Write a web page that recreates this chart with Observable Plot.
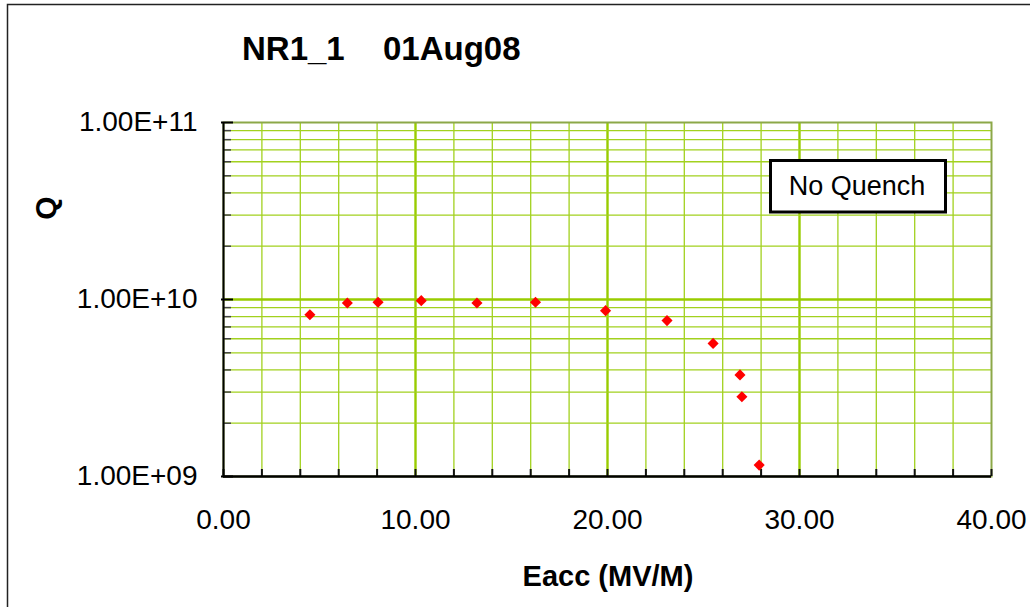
<!DOCTYPE html>
<html><head><meta charset="utf-8">
<script src="https://cdn.jsdelivr.net/npm/d3@7"></script>
<script src="https://cdn.jsdelivr.net/npm/@observablehq/plot@0.6"></script>
<style>
body{margin:0;background:#fff;font-family:"Liberation Sans",Arial,sans-serif;}
#wrap{position:relative;width:1030px;height:607px;overflow:hidden;background:#fff;}
#wrap svg{position:absolute;left:0;top:0;}
</style></head><body>
<div id="wrap"></div>
<script>
// Data
const eacc = [4.5, 6.45, 8.05, 10.3, 13.2, 16.25, 19.9, 23.1, 25.5, 26.9, 27.0, 27.9];
const q    = [8.2e9, 9.55e9, 9.65e9, 9.85e9, 9.55e9, 9.65e9, 8.65e9, 7.6e9, 5.65e9, 3.75e9, 2.82e9, 1.16e9];
const xTicks = [0, 10, 20, 30, 40];
const xTickLabels = ["0.00", "10.00", "20.00", "30.00", "40.00"];
const yTicks = [1e9, 1e10, 1e11];
const yTickLabels = ["1.00E+09", "1.00E+10", "1.00E+11"];
const xMinor = [2,4,6,8,12,14,16,18,22,24,26,28,32,34,36,38];
const xAllTicks = [0,2,4,6,8,10,12,14,16,18,20,22,24,26,28,30,32,34,36,38,40];
const yMinor = [2e9,3e9,4e9,5e9,6e9,7e9,8e9,9e9,2e10,3e10,4e10,5e10,6e10,7e10,8e10,9e10];
const yMajor = [1e10];
const titleParts = ["NR1_1", "01Aug08"];
const xLabel = "Eacc (MV/M)";
const yLabel = "Q";
const legendText = "No Quench";

const points = eacc.map((e, i) => ({eacc: e, q: q[i]}));

const W = 1030, H = 607, mL = 223, mR = 39, mT = 122, mB = 131;
const pw = W - mL - mR, ph = H - mT - mB;

const chart = Plot.plot({
  width: W, height: H,
  marginLeft: mL, marginRight: mR, marginTop: mT, marginBottom: mB,
  style: {fontFamily: "'Liberation Sans', Arial, sans-serif", color: "#000", background: "transparent", overflow: "visible"},
  x: {domain: [0, 40], label: null},
  y: {type: "log", domain: [1e9, 1e11], label: null},
  marks: [
    Plot.ruleX(xMinor, {stroke: "#a2d11e", strokeWidth: 1.3}),
    Plot.ruleX([10, 20, 30], {stroke: "#99cc00", strokeWidth: 2.4}),
    Plot.ruleY(yMinor, {stroke: "#a2d11e", strokeWidth: 1.3}),
    Plot.ruleY(yMajor, {stroke: "#99cc00", strokeWidth: 2.4}),
    Plot.frame({stroke: "#8ca848", strokeWidth: 2}),
    Plot.tickY(yMinor, {stroke: "#444", strokeWidth: 1.5, insetRight: pw - 8}),
    Plot.tickY(yTicks, {stroke: "#000", strokeWidth: 2, insetRight: pw - 10, insetLeft: -2}),
    Plot.tickX(xAllTicks, {stroke: "#111", strokeWidth: 2, insetTop: ph - 7}),
    Plot.ruleX([0], {stroke: "#000", strokeWidth: 2}),
    Plot.ruleY([1e9], {stroke: "#000", strokeWidth: 2.5}),
    Plot.axisX(xTicks, {tickSize: 0, tickPadding: 33, fontSize: 28, label: null,
      tickFormat: d => xTickLabels[xTicks.indexOf(d)]}),
    Plot.axisY(yTicks, {tickSize: 0, tickPadding: 26, fontSize: 28, label: null,
      tickFormat: d => yTickLabels[yTicks.indexOf(d)]}),
    Plot.dot(points, {x: "eacc", y: "q", symbol: "diamond2", r: 5, fill: "#ff0000", stroke: "none"})
  ]
});

const wrap = document.getElementById("wrap");
wrap.appendChild(chart);

const ns = "http://www.w3.org/2000/svg";
const ov = document.createElementNS(ns, "svg");
ov.setAttribute("width", W); ov.setAttribute("height", H);
ov.setAttribute("font-family", "'Liberation Sans', Arial, sans-serif");
ov.innerHTML = `
  <path d="M7.5,${H} V4.5 H${W}" fill="none" stroke="#222" stroke-width="1.5"/>
  <text x="242" y="60" font-size="33" font-weight="bold">${titleParts[0]}</text>
  <text x="383" y="60" font-size="33" font-weight="bold">${titleParts[1]}</text>
  <text transform="translate(56,208) rotate(-90)" text-anchor="middle" font-size="30" font-weight="bold">${yLabel}</text>
  <text x="608" y="586" text-anchor="middle" font-size="29" font-weight="bold">${xLabel}</text>
  <rect x="770.5" y="160.5" width="175" height="51.5" fill="#fff" stroke="#000" stroke-width="3"/>
  <text x="857" y="195" text-anchor="middle" font-size="27">${legendText}</text>
`;
wrap.appendChild(ov);
</script>
</body></html>
